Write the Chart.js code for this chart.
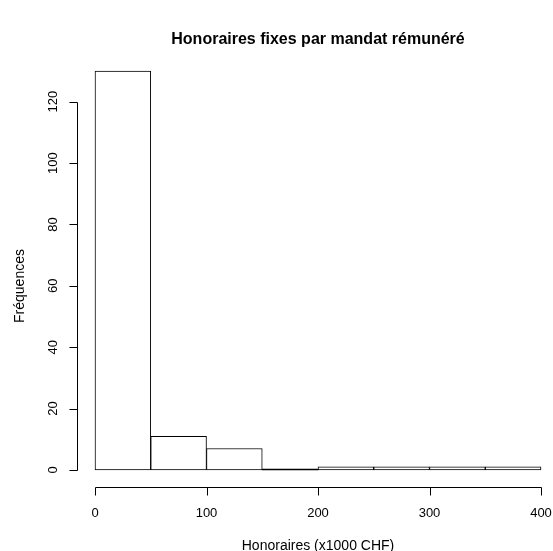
<!DOCTYPE html>
<html>
<head>
<meta charset="utf-8">
<script src="https://cdn.jsdelivr.net/npm/chart.js@4/dist/chart.umd.min.js"></script>
<style>
  html, body { margin: 0; padding: 0; background: #fff; }
  #wrap { width: 553px; height: 551px; }
</style>
</head>
<body>
<div id="wrap"><canvas id="histo"></canvas></div>
<script>
// classes de 50 (x1000 CHF) et fréquences
const classesDebut = [0, 50, 100, 150, 200, 250, 300, 350];
const largeurClasse = 50;
const frequences = [130, 11, 7, 0, 1, 1, 1, 1];
const ticksX = [0, 100, 200, 300, 400];
const ticksY = [0, 20, 40, 60, 80, 100, 120];

const titre = 'Honoraires fixes par mandat rémunéré';
const titreX = 'Honoraires (x1000 CHF)';
const titreY = 'Fréquences';

const police = '"Liberation Sans", Arial, Helvetica, sans-serif';

// axes façon R, dessinés avec les échelles de Chart.js
const axesR = {
    id: 'axesR',
    afterDraw(chart) {
        const ctx = chart.ctx;
        const sx = chart.scales.x;
        const sy = chart.scales.y;
        ctx.save();
        ctx.strokeStyle = '#000';
        ctx.fillStyle = '#000';
        ctx.lineWidth = 1;

        // axe x
        const yAxe = 487.5;
        const x0 = sx.getPixelForValue(ticksX[0]);
        const x1 = sx.getPixelForValue(ticksX[ticksX.length - 1]);
        ctx.beginPath();
        ctx.moveTo(Math.round(x0) + 0.5, yAxe);
        ctx.lineTo(Math.round(x1) + 0.5, yAxe);
        ticksX.forEach(v => {
            const px = Math.round(sx.getPixelForValue(v)) + 0.5;
            ctx.moveTo(px, yAxe);
            ctx.lineTo(px, yAxe + 8);
        });
        ctx.stroke();
        ctx.font = '13px ' + police;
        ctx.textAlign = 'center';
        ctx.textBaseline = 'middle';
        ticksX.forEach(v => {
            ctx.fillText(String(v), sx.getPixelForValue(v), 513);
        });

        // axe y
        const xAxe = 77.5;
        const ya = sy.getPixelForValue(ticksY[0]);
        const yb = sy.getPixelForValue(ticksY[ticksY.length - 1]);
        ctx.beginPath();
        ctx.moveTo(xAxe, Math.round(ya) + 0.5);
        ctx.lineTo(xAxe, Math.round(yb) + 0.5);
        ticksY.forEach(v => {
            const py = Math.round(sy.getPixelForValue(v)) + 0.5;
            ctx.moveTo(xAxe, py);
            ctx.lineTo(xAxe - 8, py);
        });
        ctx.stroke();
        ticksY.forEach(v => {
            ctx.save();
            ctx.translate(53, sy.getPixelForValue(v));
            ctx.rotate(-Math.PI / 2);
            ctx.fillText(String(v), 0, 0);
            ctx.restore();
        });

        // titres
        const centre = (77 + 559) / 2;
        ctx.font = 'bold 16px ' + police;
        ctx.fillText(titre, centre, 40);
        ctx.font = '14px ' + police;
        ctx.fillText(titreX, centre, 546);
        ctx.save();
        ctx.translate(20, (102 + 470) / 2);
        ctx.rotate(-Math.PI / 2);
        ctx.fillText(titreY, 0, 0);
        ctx.restore();
        ctx.restore();
    }
};

document.addEventListener('DOMContentLoaded', function () {
    const points = classesDebut.map((d, i) => ({ x: d + largeurClasse / 2, y: frequences[i] }));
    new Chart(document.getElementById('histo'), {
        type: 'bar',
        data: {
            datasets: [{
                data: points,
                // une classe vide se réduit à un trait, comme dans R
                backgroundColor: c => (c.raw && c.raw.y === 0) ? '#000000' : '#ffffff',
                borderColor: '#000000',
                borderWidth: c => (c.raw && c.raw.y === 0) ? 0 : 1,
                borderSkipped: false,
                minBarLength: 1,
                barPercentage: 1,
                categoryPercentage: 1,
                clip: false
            }]
        },
        options: {
            responsive: true,
            maintainAspectRatio: false,
            animation: false,
            layout: { padding: { left: 95, right: 12, top: 71, bottom: 81 } },
            plugins: {
                legend: { display: false },
                tooltip: { enabled: false },
                title: { display: false }
            },
            scales: {
                x: { type: 'linear', min: 0, max: 400, display: false, offset: false },
                y: { min: 0, max: 130, display: false }
            }
        },
        plugins: [axesR]
    });
});
</script>
</body>
</html>
